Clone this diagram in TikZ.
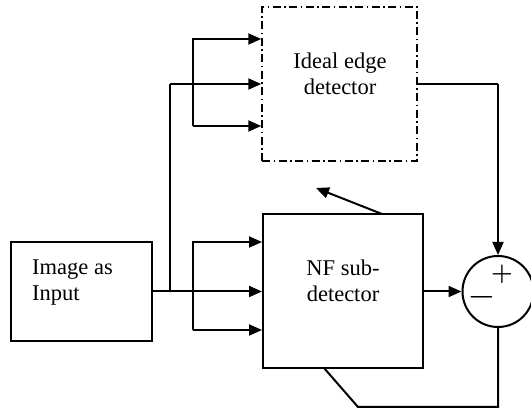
\documentclass[tikz,border=0pt]{standalone}
\usepackage{fontspec}
\setmainfont{Liberation Serif}
\usetikzlibrary{arrows.meta}
\begin{document}
\begin{tikzpicture}[x=1pt,y=-1pt,
  line/.style={line width=2pt,line join=miter},
  arr/.style={line,-{Triangle[length=13pt,width=11pt]}},
  blockbox/.style={draw,line width=2pt,rectangle,inner sep=0pt},
  lbl/.style={inner sep=0pt,font=\fontsize{22.5}{25.5}\selectfont,align=center},
  sign/.style={inner sep=0pt,font=\fontsize{25}{25}\selectfont\boldmath},
  ]
\useasboundingbox (0,0) rectangle (531,411);
\clip (0,0) rectangle (531,411);
% blocks
\node[blockbox,minimum width=141pt,minimum height=99pt] (img) at (81.5,291.5) {};
\node[lbl,align=left,anchor=north west] (imgtxt) at (32,260) {Image as\\Input};
\node[draw,line width=1.5pt,dash pattern=on 8pt off 3.5pt on 1.5pt off 3.5pt,minimum width=155pt,minimum height=154pt,inner sep=0pt] (ideal) at (339.5,84) {};
\node[lbl,anchor=north] (idealtxt) at (340,53) {Ideal edge\\detector};
\node[blockbox,minimum width=160pt,minimum height=154pt] (nf) at (343,291) {};
\node[lbl,anchor=north] (nftxt) at (343,260) {NF sub-\\detector};
\node[draw,circle,line width=2pt,minimum size=71pt,inner sep=0pt] (sum) at (498,291.5) {};
\node[sign] (plus) at (502,274.5) {$+$};
\node[sign] (minus) at (481.5,297) {\scalebox{1.25}[1]{$-$}};
% coordinates
\coordinate (j1) at (170,291.5);
\coordinate (t1) at (193,39);
\coordinate (t3) at (193,126);
\coordinate (b1) at (193,242);
\coordinate (b3) at (193,330);
\coordinate (r1) at (498,84);
\coordinate (f1) at (498,407);
\coordinate (f2) at (358,407);
\coordinate (f3) at (324,368);
\coordinate (u1) at (382,214);
\coordinate (u2) at (316,188);
% main connectors
\draw[arr] (img.east) -- (img.east -| nf.west);
\draw[line] (j1) -- (170,84) coordinate (j2);
\draw[arr] (j2) -- (j2 -| ideal.west);
\draw[arr] (t3) -- (t1) -- (t1 -| ideal.west);
\draw[arr] (t3) -- (t3 -| ideal.west);
\draw[arr] (b3) -- (b1) -- (b1 -| nf.west);
\draw[arr] (b3) -- (b3 -| nf.west);
\draw[line] (ideal.east |- r1) -- (r1);
\draw[arr] (r1) -- (sum.north);
\draw[arr] (nf.east |- sum.west) -- (sum.west);
\draw[line] (sum.south) -- (f1) -- (f2) -- (f3);
\draw[arr] (u1) -- (u2);
\end{tikzpicture}
\end{document}
